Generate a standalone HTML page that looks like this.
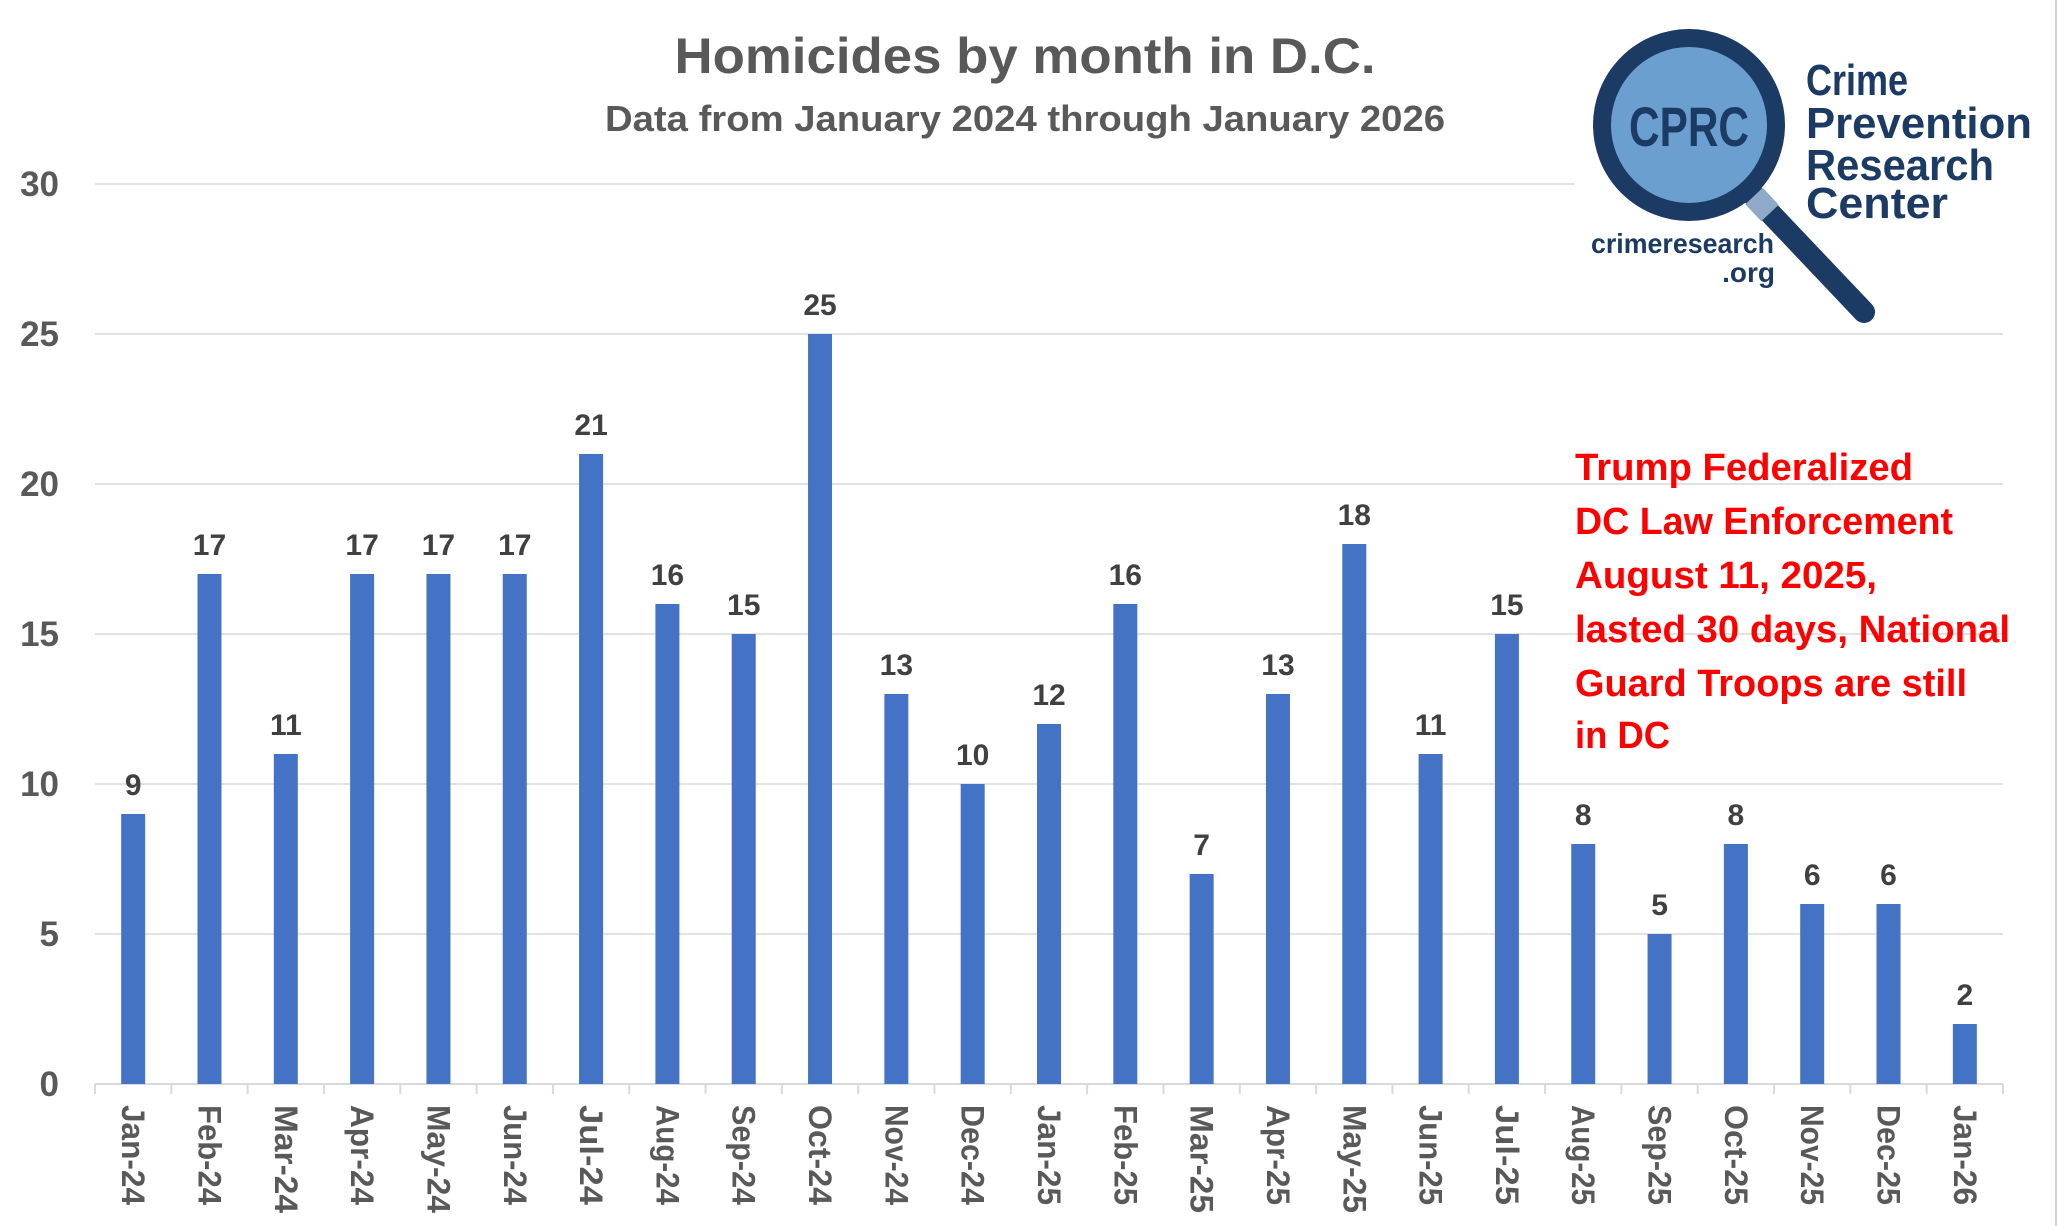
<!DOCTYPE html>
<html><head><meta charset="utf-8"><style>
html,body{margin:0;padding:0;background:#fff;}
svg{display:block;font-family:"Liberation Sans",sans-serif;}
</style></head><body>
<svg id="chart" width="2058" height="1226" viewBox="0 0 2058 1226">
<rect x="0" y="0" width="2058" height="1226" fill="#fff"/>
<line x1="2056" y1="0" x2="2056" y2="1226" stroke="#d0d0d0" stroke-width="2"/>
<text x="1025" y="73" text-anchor="middle" font-size="50" font-weight="bold" fill="#595959" textLength="701" lengthAdjust="spacingAndGlyphs">Homicides by month in D.C.</text>
<text x="1025" y="131" text-anchor="middle" font-size="36" font-weight="bold" fill="#595959" textLength="840" lengthAdjust="spacingAndGlyphs">Data from January 2024 through January 2026</text>
<g id="grid"></g><g id="bars"></g><g id="xlabels"></g>
<g>
<rect x="1575" y="0" width="470" height="322" fill="#fff"/>
<line x1="1754" y1="196" x2="1864" y2="312" stroke="#1b3a64" stroke-width="22" stroke-linecap="round"/>
<line x1="1754" y1="196" x2="1770" y2="213" stroke="#8fa9c8" stroke-width="24"/>
<circle cx="1689" cy="125" r="87" fill="#6a9fcf" stroke="#1b3a64" stroke-width="18"/>
<text x="1689" y="146" text-anchor="middle" font-size="56" font-weight="bold" fill="#1b3a64" textLength="120" lengthAdjust="spacingAndGlyphs">CPRC</text>
<text x="1806" y="95" font-size="44" fill="#1b3a64" font-weight="bold" textLength="102" lengthAdjust="spacingAndGlyphs">Crime</text>
<text x="1806" y="138" font-size="44" fill="#1b3a64" font-weight="bold" textLength="226" lengthAdjust="spacingAndGlyphs">Prevention</text>
<text x="1806" y="180" font-size="44" fill="#1b3a64" font-weight="bold" textLength="188" lengthAdjust="spacingAndGlyphs">Research</text>
<text x="1806" y="218" font-size="44" fill="#1b3a64" font-weight="bold" textLength="142" lengthAdjust="spacingAndGlyphs">Center</text>
<text x="1591" y="253" font-size="28" fill="#1b3a64" font-weight="bold" textLength="183" lengthAdjust="spacingAndGlyphs">crimeresearch</text>
<text x="1775" y="282" text-anchor="end" font-size="28" fill="#1b3a64" font-weight="bold">.org</text>
</g>
<g fill="#ff0000" font-size="38" font-weight="bold">
<text x="1575" y="480" textLength="338" lengthAdjust="spacingAndGlyphs">Trump Federalized</text>
<text x="1575" y="534" textLength="378" lengthAdjust="spacingAndGlyphs">DC Law Enforcement</text>
<text x="1575" y="588" textLength="302" lengthAdjust="spacingAndGlyphs">August 11, 2025,</text>
<text x="1575" y="642" textLength="435" lengthAdjust="spacingAndGlyphs">lasted 30 days, National</text>
<text x="1575" y="696" textLength="392" lengthAdjust="spacingAndGlyphs">Guard Troops are still</text>
<text x="1575" y="748" textLength="95" lengthAdjust="spacingAndGlyphs">in DC</text>
</g>
</svg>
<script>
const categories=["Jan-24","Feb-24","Mar-24","Apr-24","May-24","Jun-24","Jul-24","Aug-24","Sep-24","Oct-24","Nov-24","Dec-24","Jan-25","Feb-25","Mar-25","Apr-25","May-25","Jun-25","Jul-25","Aug-25","Sep-25","Oct-25","Nov-25","Dec-25","Jan-26"];
const homicides=[9,17,11,17,17,17,21,16,15,25,13,10,12,16,7,13,18,11,15,8,5,8,6,6,2];
const yTicks=[0,5,10,15,20,25,30];
const NS="http://www.w3.org/2000/svg";
const X0=95,X1=2003,GR=2003,Y0=1084,Y30=184,YMAX=30;
const step=(X1-X0)/categories.length;
function y(v){return Y0-(v/YMAX)*(Y0-Y30);}
function xc(i){return X0+step*(i+0.5);}
function mk(tag,attrs,parent){const e=document.createElementNS(NS,tag);for(const k in attrs)e.setAttribute(k,attrs[k]);parent.appendChild(e);return e;}
const grid=document.getElementById('grid'),bars=document.getElementById('bars'),xl=document.getElementById('xlabels');
yTicks.forEach(t=>{
  if(t>0){const l=mk('line',{x1:X0,x2:GR,y1:y(t),y2:y(t),stroke:'#d9d9d9','stroke-width':1.5},grid);
  
  }
  const tx=mk('text',{x:59,y:y(t)+12,'text-anchor':'end','font-size':35,'font-weight':'bold',fill:'#595959'},grid);
  tx.textContent=t;
  
  
});
const ax=mk('line',{x1:X0,x2:GR,y1:Y0,y2:Y0,stroke:'#d9d9d9','stroke-width':2},grid);


for(let i=0;i<=categories.length;i++){
  const tk=mk('line',{x1:X0+step*i,x2:X0+step*i,y1:Y0,y2:Y0+10,stroke:'#d9d9d9','stroke-width':2},grid);
  
  
}
categories.forEach((c,i)=>{
  const v=homicides[i];
  const r=mk('rect',{x:xc(i)-12,y:y(v),width:24,height:Y0-y(v),fill:'#4472c4'},bars);
  
  
  const lb=mk('text',{x:xc(i),y:y(v)-19,'text-anchor':'middle','font-size':30,'font-weight':'bold',fill:'#404040'},bars);
  lb.textContent=v;
  
  
  const t=mk('text',{x:0,y:0,'font-size':32,'font-weight':'bold',fill:'#595959',transform:`translate(${xc(i)-11},1105) rotate(90)`,textLength:String(c.startsWith('Mar')||c.startsWith('May')?108:100),lengthAdjust:'spacingAndGlyphs'},xl);
  t.textContent=c;
  
  
});
</script>
</body></html>
